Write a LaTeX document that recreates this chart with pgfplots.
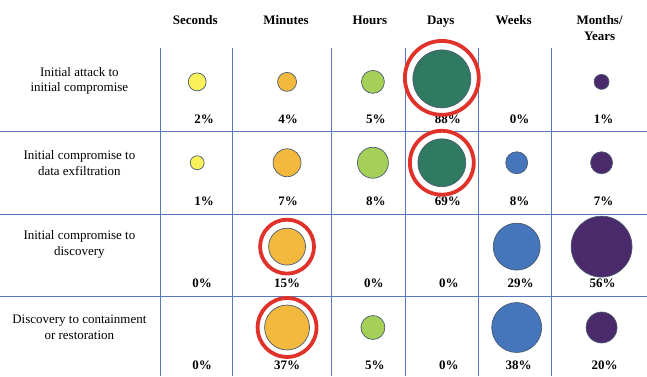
\documentclass[border=0pt]{standalone}
\usepackage{pgfplots}
\pgfplotsset{compat=1.18}
\usepackage{fontspec}
\setmainfont{Liberation Serif}
\definecolor{gridc}{HTML}{5878BC}
\definecolor{edgec}{HTML}{4A5A70}
\definecolor{cyel}{HTML}{F8F15A}
\definecolor{cora}{HTML}{F3B93E}
\definecolor{clgr}{HTML}{A5D057}
\definecolor{cdgr}{HTML}{2F7A60}
\definecolor{cblu}{HTML}{4575BA}
\definecolor{cpur}{HTML}{4A2A6A}
\definecolor{cred}{HTML}{E0322B}
\pgfplotsset{
  bub/.style={scatter, only marks, mark=*, line width=0.7pt,
    mark options={line width=0.7pt},
    scatter/use mapped color={draw=edgec, fill=#1},
    visualization depends on={\thisrow{r}\as\rad},
    scatter/@pre marker code/.append style={/tikz/mark size=\rad}},
  ring/.style={scatter, only marks, mark=o, line width=3.8pt,
    mark options={line width=3.8pt},
    scatter/use mapped color={draw=cred},
    visualization depends on={\thisrow{r}\as\rad},
    scatter/@pre marker code/.append style={/tikz/mark size=\rad}},
  gl/.style={gridc, line width=1pt, no marks}
}
\tikzset{pc/.style={font=\fontsize{13}{16}\selectfont\bfseries},
  hd/.style={font=\fontsize{13}{16}\selectfont\bfseries, anchor=base},
  rl/.style={font=\fontsize{13}{16}\selectfont, align=center}}
\begin{document}
\begin{tikzpicture}
\begin{axis}[
  scale only axis, width=647pt, height=377pt,
  xmin=0, xmax=647, ymin=0, ymax=377, y dir=reverse,
  hide axis, clip=false
]
\path (axis cs:0,0) rectangle (axis cs:647,377);
% grid lines
\addplot[gl] coordinates {(160,48) (160,377)};
\addplot[gl] coordinates {(232,48) (232,377)};
\addplot[gl] coordinates {(332,48) (332,377)};
\addplot[gl] coordinates {(406,48) (406,377)};
\addplot[gl] coordinates {(479,48) (479,377)};
\addplot[gl] coordinates {(552,48) (552,377)};
\addplot[gl] coordinates {(0,132) (647,132)};
\addplot[gl] coordinates {(0,215) (647,215)};
\addplot[gl] coordinates {(0,297) (647,297)};
% bubbles
\addplot[bub=cyel] table {
x y r
197 82 9
197 163 7
};
\addplot[bub=cora] table {
x y r
287 82 9.5
287 163 14
287 247 18.5
287 328 22.5
};
\addplot[bub=clgr] table {
x y r
373 82 11.5
373 163 15.5
373 328 12
};
\addplot[bub=cdgr] table {
x y r
442 79 29
442 163 24
};
\addplot[bub=cblu] table {
x y r
517 163 11
517 247 23.5
517 328 25
};
\addplot[bub=cpur] table {
x y r
602 82 7.5
602 163 11
602 247 30.5
602 328 15.5
};
% highlight rings
\addplot[ring] table {
x y r
442 78 37
442 163 32
287 247 27
287 328 29.5
};
% headers
\node[hd] at (axis cs:195,25) {Seconds};
\node[hd] at (axis cs:286,25) {Minutes};
\node[hd] at (axis cs:370,25) {Hours};
\node[hd] at (axis cs:441,25) {Days};
\node[hd] at (axis cs:514,25) {Weeks};
\node[pc, align=center] at (axis cs:600,28) {Months/\\Years};
% row labels
\node[rl] at (axis cs:79,81) {Initial attack to\\initial compromise};
\node[rl] at (axis cs:79,163) {Initial compromise to\\data exfiltration};
\node[rl] at (axis cs:79,245) {Initial compromise to\\discovery};
\node[rl] at (axis cs:79,328) {Discovery to containment\\or restoration};
% percentages
\node[pc] at (axis cs:204,119) {2\%};
\node[pc] at (axis cs:288,119) {4\%};
\node[pc] at (axis cs:376,119) {5\%};
\node[pc] at (axis cs:448,119) {88\%};
\node[pc] at (axis cs:520,119) {0\%};
\node[pc] at (axis cs:604,119) {1\%};
\node[pc] at (axis cs:204,202) {1\%};
\node[pc] at (axis cs:288,202) {7\%};
\node[pc] at (axis cs:376,202) {8\%};
\node[pc] at (axis cs:448,202) {69\%};
\node[pc] at (axis cs:520,202) {8\%};
\node[pc] at (axis cs:604,202) {7\%};
\node[pc] at (axis cs:202,284) {0\%};
\node[pc] at (axis cs:287,284) {15\%};
\node[pc] at (axis cs:374,284) {0\%};
\node[pc] at (axis cs:449,284) {0\%};
\node[pc] at (axis cs:521,284) {29\%};
\node[pc] at (axis cs:603,284) {56\%};
\node[pc] at (axis cs:202,366) {0\%};
\node[pc] at (axis cs:287,366) {37\%};
\node[pc] at (axis cs:375,366) {5\%};
\node[pc] at (axis cs:449,366) {0\%};
\node[pc] at (axis cs:519,366) {38\%};
\node[pc] at (axis cs:605,366) {20\%};
\end{axis}
\end{tikzpicture}
\end{document}
